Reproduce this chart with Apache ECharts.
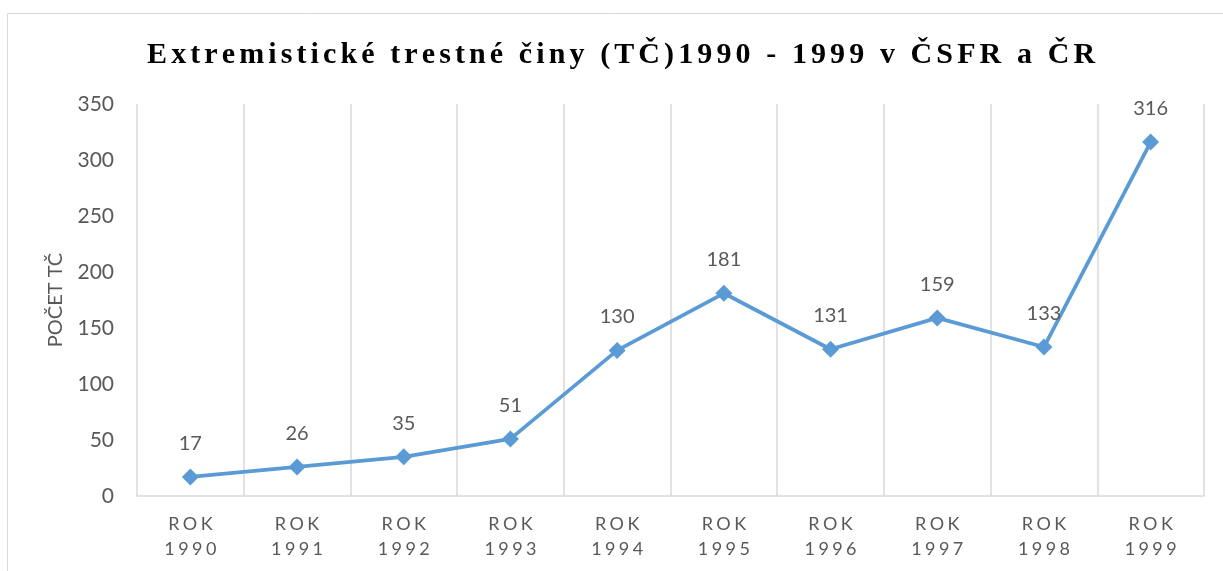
<!DOCTYPE html>
<html>
<head>
<meta charset="utf-8">
<script src="https://cdn.jsdelivr.net/npm/echarts@6/dist/echarts.min.js"></script>
<style>
  html, body { margin: 0; padding: 0; background: #fff; }
  #chart { width: 1223px; height: 571px; }
</style>
</head>
<body>
<div id="chart"></div>
<script>
// data
var titleText = 'Extremistické trestné činy (TČ)1990 - 1999 v ČSFR a ČR';
var years = ['1990', '1991', '1992', '1993', '1994', '1995', '1996', '1997', '1998', '1999'];
var counts = [17, 26, 35, 51, 130, 181, 131, 159, 133, 316];
var yTicks = [0, 50, 100, 150, 200, 250, 300, 350];
var yName = 'POČET TČ';

var categories = years.map(function (y) { return 'ROK ' + y; });

// roztažení písmen (letter-spacing) přes rich text
function spaced(str, style) {
  return str.split('').map(function (c) { return '{' + style + '|' + c + '}'; }).join('');
}

var chart = echarts.init(document.getElementById('chart'));

chart.setOption({
  backgroundColor: '#fff',
  animation: false,
  title: {
    text: spaced(titleText, 't'),
    left: 140,
    top: 35,
    textStyle: {
      rich: {
        t: {
          fontFamily: 'Liberation Serif',
          fontWeight: 'bold',
          fontSize: 30,
          color: '#000',
          padding: [0, 2.05, 0, 2.05]
        }
      }
    }
  },
  graphic: [{
    type: 'rect',
    shape: { x: 7.5, y: 13.5, width: 1240, height: 600 },
    style: { fill: 'none', stroke: '#d9d9d9', lineWidth: 1 },
    silent: true
  }],
  grid: { left: 137, right: 19, top: 104, bottom: 75 },
  xAxis: {
    type: 'category',
    data: categories,
    boundaryGap: true,
    axisLine: { lineStyle: { color: '#d9d9d9', width: 1.5 } },
    axisTick: { show: false },
    splitLine: { show: true, lineStyle: { color: '#d9d9d9', width: 1.5 } },
    axisLabel: {
      margin: 16,
      interval: 0,
      formatter: function (v) {
        var p = v.split(' ');
        return spaced(p[0], 'x') + '\n' + spaced(p[1], 'x');
      },
      rich: {
        x: {
          fontFamily: 'Lato',
          fontSize: 18,
          color: '#595959',
          lineHeight: 25,
          padding: [0, 1.7, 0, 1.7]
        }
      }
    }
  },
  yAxis: {
    type: 'value',
    min: yTicks[0],
    max: yTicks[yTicks.length - 1],
    interval: 50,
    name: yName,
    nameLocation: 'middle',
    nameGap: 71,
    nameRotate: 90,
    nameTextStyle: { fontFamily: 'Lato', fontSize: 20, color: '#595959' },
    axisLine: { show: false },
    axisTick: { show: false },
    splitLine: { show: false },
    axisLabel: { margin: 23, fontFamily: 'Lato', fontSize: 21, color: '#595959' }
  },
  series: [{
    type: 'line',
    data: counts,
    symbol: 'diamond',
    symbolSize: 17,
    itemStyle: { color: '#5b9bd5' },
    lineStyle: { color: '#5b9bd5', width: 3.75 },
    label: {
      show: true,
      position: 'top',
      distance: 15,
      fontFamily: 'Lato',
      fontSize: 20,
      color: '#595959'
    }
  }]
});
</script>
</body>
</html>
